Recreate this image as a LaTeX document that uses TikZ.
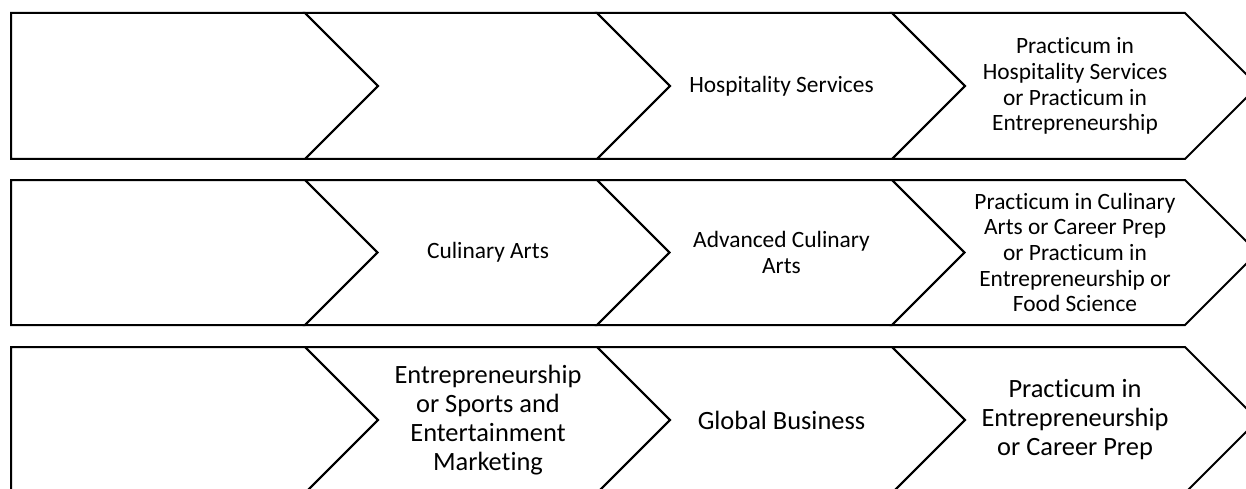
\documentclass[tikz,border=0pt]{standalone}
\usepackage{fontspec}
\setmainfont[RawFeature=-liga]{Carlito}
\begin{document}
\begin{tikzpicture}[x=1pt,y=-1pt,
    chev/.style={line width=2pt, line join=miter},
    lbl/.style={align=center, inner sep=0pt},
    small/.style={font=\fontsize{23.4}{25.7}\selectfont},
    big/.style={font=\fontsize{26.4}{29}\selectfont}]
    \useasboundingbox (0,0) rectangle (1246,489);
    \clip (0,0) rectangle (1246,489);
    % one row of chevrons: top/middle/bottom
    \foreach \t/\m/\b in {13/86/159, 180/252.5/325, 347/420/493}
        {
            \draw[chev] (11,\t) -- (305,\t) -- (305+\m-\t,\m) -- (305,\b) -- (11,\b) -- cycle;
            \foreach \l/\r in {305/597, 597/892, 892/1185}
                {
                    \draw[chev] (\l,\t) -- (\r,\t) -- (\r+\m-\t,\m) -- (\r,\b) -- (\l,\b) -- (\l+\m-\t,\m) -- cycle;
                }
        }
    % row 1
    \node[lbl,small] (hosp) at (781.5,86) {Hospitality Services};
    \node[lbl,small] (prachosp) at (1075,86) {Practicum in\\Hospitality Services\\or Practicum in\\Entrepreneurship};
    % row 2
    \node[lbl,small] (culin) at (488,252.5) {Culinary Arts};
    \node[lbl,small] (advculin) at (781.5,252.5) {Advanced Culinary\\Arts};
    \node[lbl,small] (pracculin) at (1075,252.5) {Practicum in Culinary\\Arts or Career Prep\\or Practicum in\\Entrepreneurship or\\Food Science};
    % row 3
    \node[lbl,big] (entre) at (488,420) {Entrepreneurship\\or Sports and\\Entertainment\\Marketing};
    \node[lbl,big] (global) at (781.5,420) {Global Business};
    \node[lbl,big] (pracentre) at (1075,420) {Practicum in\\Entrepreneurship\\or Career Prep};
\end{tikzpicture}
\end{document}
